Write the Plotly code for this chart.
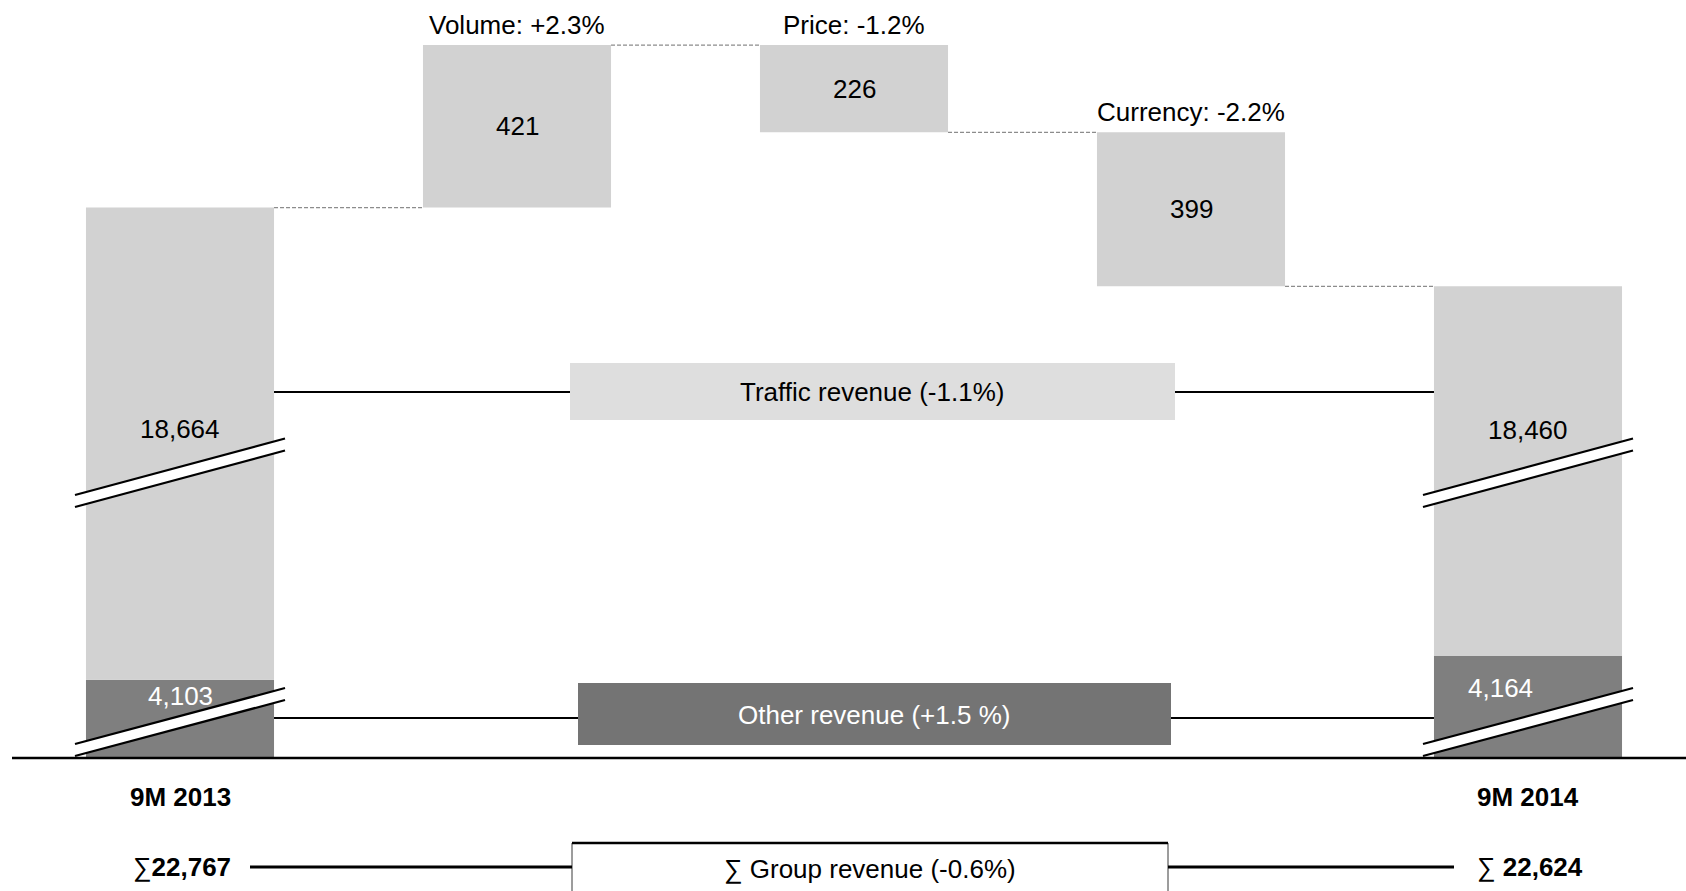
import plotly.graph_objects as go

# Nine-month revenue bridge, EUR m
periods = ["9M 2013", "9M 2014"]
traffic_revenue = [18664, 18460]
other_revenue = [4103, 4164]
group_revenue = [22767, 22624]

drivers = ["Volume", "Price", "Currency"]
driver_change = [421, -226, -399]
driver_pct = ["+2.3%", "-1.2%", "-2.2%"]

traffic_label = "Traffic revenue (-1.1%)"
other_label = "Other revenue (+1.5 %)"
group_label = "∑ Group revenue (-0.6%)"

# ---- canvas and broken-axis geometry -------------------------------------
W, H = 1686, 891
BASE_PX = 758          # pixel row of the baseline
PX_PER_UNIT = 0.386    # vertical scale of the bridge
X0_PX, STEP_PX = 180, 337
BAR_W = 0.558
TRAFFIC_CUT = 17238    # hidden part of the traffic-revenue bars (axis break)
OTHER_CUT = 3900       # hidden part of the other-revenue bars (axis break)

FONT = "Liberation Sans, Arial, sans-serif"
LIGHT, LIGHT_BOX = "#d2d2d2", "#dedede"
DARK, DARK_BOX = "#7f7f7f", "#747474"


def xpx(px):
    return (px - X0_PX) / STEP_PX


def ypx(py):
    return (BASE_PX - py) / PX_PER_UNIT


total_cols = [0, len(drivers) + 1]
driver_cols = list(range(1, len(drivers) + 1))

# running level of traffic revenue through the bridge
levels = [traffic_revenue[0]]
for d in driver_change:
    levels.append(levels[-1] + d)

other_top = [o - OTHER_CUT for o in other_revenue]
traffic_top = [t - TRAFFIC_CUT for t in traffic_revenue]

fig = go.Figure()
fig.add_trace(go.Bar(
    x=total_cols, y=other_top, base=[0, 0], width=BAR_W,
    marker=dict(color=DARK, line=dict(width=0)), hoverinfo="skip"))
fig.add_trace(go.Bar(
    x=total_cols, base=other_top,
    y=[t - o for t, o in zip(traffic_top, other_top)], width=BAR_W,
    marker=dict(color=LIGHT, line=dict(width=0)), hoverinfo="skip"))
fig.add_trace(go.Bar(
    x=driver_cols, base=[lv - TRAFFIC_CUT for lv in levels[:-1]],
    y=driver_change, width=BAR_W,
    marker=dict(color=LIGHT, line=dict(width=0)), hoverinfo="skip"))

shapes = []
ann = []


def hline(x0, x1, y, width=2.2, color="black", dash=None):
    shapes.append(dict(type="line", xref="x", yref="y", x0=x0, x1=x1, y0=y, y1=y,
                       line=dict(color=color, width=width, dash=dash)))


def text(x, y, s, size=26, color="black", yshift=0):
    ann.append(dict(x=x, y=y, xref="x", yref="y", text=s, showarrow=False,
                    xanchor="center", yanchor="middle", yshift=yshift,
                    font=dict(family=FONT, size=size, color=color)))


# baseline
hline(xpx(12), xpx(W), 0, width=2.6)

# dashed connectors between neighbouring columns
for i, lv in enumerate(levels):
    hline(i + BAR_W / 2, i + 1 - BAR_W / 2, lv - TRAFFIC_CUT,
          width=1.2, color="#8c8c8c", dash="4px,2px")

# axis-break marks on both total columns
ext = 11 / STEP_PX
for c in total_cols:
    xl, xr = c - BAR_W / 2 - ext, c + BAR_W / 2 + ext
    for yl, yr in [(495, 438.5), (744, 688)]:
        gap = 12
        shapes.append(dict(
            type="path", xref="x", yref="y", layer="above",
            path=(f"M {xl},{ypx(yl)} L {xr},{ypx(yr)} "
                  f"L {xr},{ypx(yr + gap)} L {xl},{ypx(yl + gap)} Z"),
            fillcolor="white", line=dict(width=0)))
        for off in (0, gap):
            shapes.append(dict(type="line", xref="x", yref="y",
                               x0=xl, y0=ypx(yl + off), x1=xr, y1=ypx(yr + off),
                               line=dict(color="black", width=2.2)))

# segment brackets: traffic, other and group revenue
left_edge, right_edge = BAR_W / 2, total_cols[1] - BAR_W / 2
shapes.append(dict(type="rect", xref="x", yref="y", x0=xpx(570), x1=xpx(1175),
                   y0=ypx(420), y1=ypx(363), fillcolor=LIGHT_BOX, line=dict(width=0),
                   layer="below"))
hline(left_edge, xpx(570), ypx(392))
hline(xpx(1175), right_edge, ypx(392))
text(xpx(872), ypx(392), traffic_label)

shapes.append(dict(type="rect", xref="x", yref="y", x0=xpx(578), x1=xpx(1171),
                   y0=ypx(745), y1=ypx(683), fillcolor=DARK_BOX, line=dict(width=0),
                   layer="below"))
hline(left_edge, xpx(578), ypx(718))
hline(xpx(1171), right_edge, ypx(718))
text(xpx(874), ypx(715), other_label, color="white")

shapes.append(dict(type="rect", xref="x", yref="y", x0=xpx(572), x1=xpx(1168),
                   y0=ypx(905), y1=ypx(843), fillcolor="white",
                   line=dict(color="#3a3a3a", width=1)))
hline(xpx(572), xpx(1168), ypx(843), width=2.6)
hline(xpx(250), xpx(572), ypx(867), width=3)
hline(xpx(1168), xpx(1454), ypx(867), width=3)
text(xpx(870), ypx(869), group_label)

# driver labels
for col, name, pct, d, lv in zip(driver_cols, drivers, driver_pct, driver_change, levels):
    lo, hi = sorted([lv - TRAFFIC_CUT, lv + d - TRAFFIC_CUT])
    text(col, hi, f"{name}: {pct}", yshift=20)
    text(col, (lo + hi) / 2, f"{abs(d):,}")

# total-column labels
text(total_cols[0], ypx(429), f"{traffic_revenue[0]:,}")
text(total_cols[1], ypx(430), f"{traffic_revenue[1]:,}")
text(total_cols[0], ypx(696), f"{other_revenue[0]:,}", color="white")
text(xpx(1500), ypx(688), f"{other_revenue[1]:,}", color="white")
for c, p in zip(total_cols, periods):
    text(c, ypx(797), f"<b>{p}</b>")
text(xpx(182), ypx(867), f"∑<b>{group_revenue[0]:,}</b>")
text(xpx(1530), ypx(867), f"∑ <b>{group_revenue[1]:,}</b>")

fig.update_layout(
    width=W, height=H, autosize=False,
    margin=dict(l=0, r=0, t=0, b=0, pad=0),
    paper_bgcolor="white", plot_bgcolor="white",
    barmode="overlay", showlegend=False,
    xaxis=dict(range=[xpx(0), xpx(W)], visible=False, fixedrange=True),
    yaxis=dict(range=[ypx(H), ypx(0)], visible=False, fixedrange=True),
    shapes=shapes, annotations=ann,
    font=dict(family=FONT),
)

fig.write_html("out.html", config={"displayModeBar": False})
